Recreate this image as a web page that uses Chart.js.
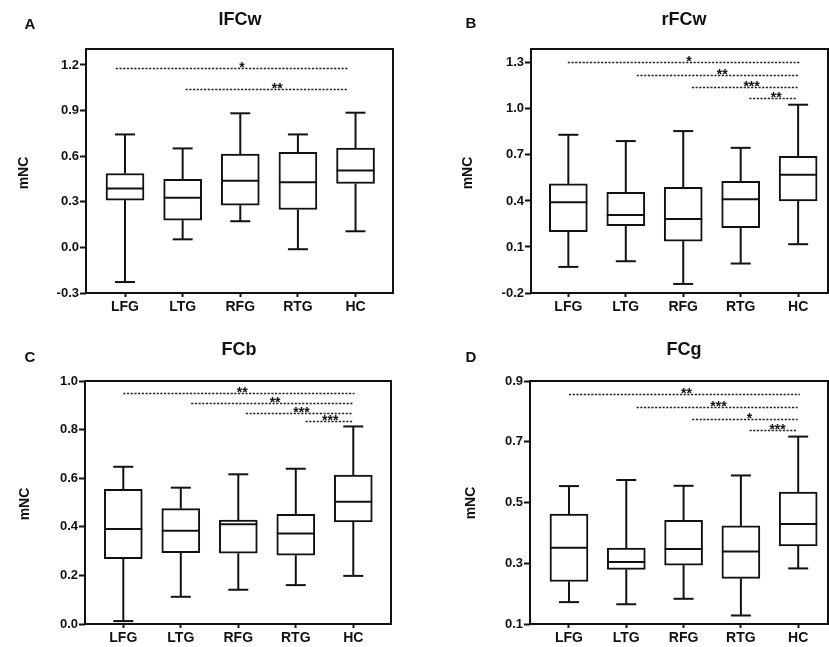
<!DOCTYPE html>
<html>
<head>
<meta charset="utf-8">
<script src="https://cdn.jsdelivr.net/npm/chart.js@4"></script>
<style>
  body { margin: 0; background: #fff; }
  #wrap { position: relative; width: 829px; height: 647px; overflow: hidden;
          font-family: "Liberation Sans", Arial, sans-serif; font-weight: bold; color: #111; }
  canvas { position: absolute; }
  .t { position: absolute; transform: translate(-50%, -50%); white-space: nowrap; }
  .letter { font-size: 15px; }
  .title { font-size: 18px; }
  .ylab { font-size: 14px; transform: translate(-50%, -50%) rotate(-90deg); }
</style>
</head>
<body>
<div id="wrap">
  <canvas id="cA" width="414" height="320" style="left:0;top:0"></canvas>
  <canvas id="cB" width="414" height="320" style="left:415px;top:0"></canvas>
  <canvas id="cC" width="414" height="327" style="left:0;top:320px"></canvas>
  <canvas id="cD" width="414" height="327" style="left:415px;top:320px"></canvas>

  <div class="t letter" style="left:30px;top:23px">A</div>
  <div class="t title" style="left:240px;top:19px">lFCw</div>
  <div class="t ylab" style="left:23px;top:173px">mNC</div>

  <div class="t letter" style="left:471px;top:22px">B</div>
  <div class="t title" style="left:684px;top:19px">rFCw</div>
  <div class="t ylab" style="left:467px;top:173px">mNC</div>

  <div class="t letter" style="left:30px;top:356px">C</div>
  <div class="t title" style="left:239px;top:349px">FCb</div>
  <div class="t ylab" style="left:24px;top:504px">mNC</div>

  <div class="t letter" style="left:471px;top:356px">D</div>
  <div class="t title" style="left:684px;top:349px">FCg</div>
  <div class="t ylab" style="left:470px;top:503px">mNC</div>
</div>
<script>
// groups on the x axis
const groups = ['LFG', 'LTG', 'RFG', 'RTG', 'HC'];

// panel A: lFCw
const aMin = [-0.228, 0.053, 0.172, -0.012, 0.106];
const aQ1  = [0.311, 0.179, 0.278, 0.249, 0.420];
const aMed = [0.387, 0.326, 0.438, 0.429, 0.506];
const aQ3  = [0.486, 0.447, 0.614, 0.625, 0.653];
const aMax = [0.743, 0.651, 0.882, 0.743, 0.886];
const aTicks = [-0.3, 0.0, 0.3, 0.6, 0.9, 1.2];
const aSigFrom = [-0.16, 1.05];
const aSigTo   = [3.87, 3.87];
const aSigY    = [1.182, 1.040];
const aSigAt   = [2.03, 2.64];
const aSigText = ['*', '**'];

// panel B: rFCw
const bMin = [-0.030, 0.007, -0.141, -0.008, 0.118];
const bQ1  = [0.199, 0.238, 0.138, 0.225, 0.400];
const bMed = [0.391, 0.308, 0.282, 0.411, 0.570];
const bQ3  = [0.511, 0.456, 0.489, 0.528, 0.690];
const bMax = [0.831, 0.790, 0.855, 0.746, 1.027];
const bTicks = [-0.2, 0.1, 0.4, 0.7, 1.0, 1.3];
const bSigFrom = [-0.01, 1.19, 2.15, 3.15];
const bSigTo   = [4.03, 4.01, 3.99, 3.98];
const bSigY    = [1.304, 1.222, 1.143, 1.071];
const bSigAt   = [2.10, 2.68, 3.19, 3.62];
const bSigText = ['*', '**', '***', '**'];

// panel C: FCb
const cMin = [0.012, 0.112, 0.141, 0.160, 0.198];
const cQ1  = [0.269, 0.294, 0.291, 0.283, 0.420];
const cMed = [0.391, 0.384, 0.410, 0.372, 0.503];
const cQ3  = [0.554, 0.475, 0.428, 0.451, 0.613];
const cMax = [0.647, 0.561, 0.616, 0.639, 0.813];
const cTicks = [0.0, 0.2, 0.4, 0.6, 0.8, 1.0];
const cSigFrom = [0.0, 1.18, 2.13, 3.17];
const cSigTo   = [4.02, 4.0, 3.98, 3.98];
const cSigY    = [0.952, 0.911, 0.870, 0.835];
const cSigAt   = [2.07, 2.64, 3.10, 3.60];
const cSigText = ['**', '**', '***', '***'];

// panel D: FCg
const dMin = [0.172, 0.165, 0.183, 0.128, 0.283];
const dQ1  = [0.240, 0.280, 0.294, 0.250, 0.357];
const dMed = [0.351, 0.304, 0.347, 0.339, 0.429];
const dQ3  = [0.462, 0.350, 0.441, 0.423, 0.534];
const dMax = [0.554, 0.574, 0.555, 0.589, 0.717];
const dTicks = [0.1, 0.3, 0.5, 0.7, 0.9];
const dSigFrom = [0.0, 1.18, 2.15, 3.15];
const dSigTo   = [4.03, 3.99, 3.99, 3.98];
const dSigY    = [0.856, 0.814, 0.776, 0.739];
const dSigAt   = [2.05, 2.61, 3.15, 3.64];
const dSigText = ['**', '***', '*', '***'];

const FONT = '"Liberation Sans", Arial, sans-serif';
const INK = '#111';

function makePanel(id, d, box) {
  // whiskers, medians, comparison lines and the frame
  const extras = {
    id: 'extras',
    afterDatasetsDraw(chart) {
      const { ctx, scales: { x, y } } = chart;
      ctx.save();
      ctx.strokeStyle = INK;
      ctx.lineWidth = 2;
      groups.forEach((g, i) => {
        const px = x.getPixelForValue(i);
        const line = (x0, y0, x1, y1) => {
          ctx.beginPath(); ctx.moveTo(x0, y0); ctx.lineTo(x1, y1); ctx.stroke();
        };
        line(px, y.getPixelForValue(d.q3[i]), px, y.getPixelForValue(d.max[i]));
        line(px - 10, y.getPixelForValue(d.max[i]), px + 10, y.getPixelForValue(d.max[i]));
        line(px, y.getPixelForValue(d.q1[i]), px, y.getPixelForValue(d.min[i]));
        line(px - 10, y.getPixelForValue(d.min[i]), px + 10, y.getPixelForValue(d.min[i]));
        line(px - 19, y.getPixelForValue(d.med[i]), px + 19, y.getPixelForValue(d.med[i]));
      });
      ctx.restore();
    },
    afterDraw(chart) {
      const { ctx, chartArea: a, scales: { x, y } } = chart;
      ctx.save();
      ctx.strokeStyle = '#222';
      ctx.lineWidth = 1.3;
      ctx.setLineDash([2.2, 1.5]);
      d.sigY.forEach((v, k) => {
        const py = Math.round(y.getPixelForValue(v)) + 0.5;
        ctx.beginPath();
        ctx.moveTo(x.getPixelForValue(d.sigFrom[k]), py);
        ctx.lineTo(x.getPixelForValue(d.sigTo[k]), py);
        ctx.stroke();
      });
      ctx.setLineDash([]);
      ctx.fillStyle = INK;
      ctx.font = 'bold 14px ' + FONT;
      ctx.textAlign = 'center';
      ctx.textBaseline = 'alphabetic';
      d.sigText.forEach((s, k) => {
        ctx.fillText(s, x.getPixelForValue(d.sigAt[k]), y.getPixelForValue(d.sigY[k]) + 4);
      });
      ctx.strokeStyle = INK;
      ctx.lineWidth = 2;
      ctx.strokeRect(a.left, a.top, a.right - a.left, a.bottom - a.top);
      ctx.restore();
    }
  };

  new Chart(document.getElementById(id), {
    type: 'bar',
    data: {
      datasets: [{
        data: groups.map((g, i) => ({ x: i, y: [d.q1[i], d.q3[i]] })),
        backgroundColor: '#fff',
        borderColor: INK,
        borderWidth: 2,
        borderSkipped: false,
        barThickness: 38,
      }],
    },
    options: {
      responsive: false,
      animation: false,
      devicePixelRatio: 1,
      layout: { padding: { left: 0, top: box.top, right: box.right, bottom: 0 } },
      plugins: { legend: { display: false }, tooltip: { enabled: false } },
      scales: {
        x: {
          type: 'linear', min: box.xmin, max: box.xmax, offset: false,
          afterBuildTicks: s => { s.ticks = groups.map((g, i) => ({ value: i })); },
          afterFit: s => { s.height = box.xh; },
          ticks: { callback: v => groups[v], color: INK, padding: 2,
                   font: { family: FONT, size: 14, weight: 'bold' } },
          grid: { offset: false, drawOnChartArea: false, drawTicks: true, tickLength: 4,
                  tickColor: INK, tickWidth: 2 },
          border: { display: false },
        },
        y: {
          min: box.ymin, max: box.ymax,
          afterBuildTicks: s => { s.ticks = d.ticks.map(v => ({ value: v })); },
          afterFit: s => { s.width = box.yw; },
          ticks: { callback: v => v.toFixed(1), color: INK, padding: 1,
                   font: { family: FONT, size: 13, weight: 'bold' } },
          grid: { drawOnChartArea: false, drawTicks: true, tickLength: 6,
                  tickColor: INK, tickWidth: 2 },
          border: { display: false },
        },
      },
    },
    plugins: [extras],
  });
}

makePanel('cA',
  { min: aMin, q1: aQ1, med: aMed, q3: aQ3, max: aMax, ticks: aTicks,
    sigFrom: aSigFrom, sigTo: aSigTo, sigY: aSigY, sigAt: aSigAt, sigText: aSigText },
  { top: 49, right: 21, yw: 86, xh: 27, xmin: -0.677, xmax: 4.65, ymin: -0.3, ymax: 1.305 });

makePanel('cB',
  { min: bMin, q1: bQ1, med: bMed, q3: bQ3, max: bMax, ticks: bTicks,
    sigFrom: bSigFrom, sigTo: bSigTo, sigY: bSigY, sigAt: bSigAt, sigText: bSigText },
  { top: 49, right: 1, yw: 116, xh: 27, xmin: -0.65, xmax: 4.52, ymin: -0.2, ymax: 1.39 });

makePanel('cC',
  { min: cMin, q1: cQ1, med: cMed, q3: cQ3, max: cMax, ticks: cTicks,
    sigFrom: cSigFrom, sigTo: cSigTo, sigY: cSigY, sigAt: cSigAt, sigText: cSigText },
  { top: 61, right: 23, yw: 85, xh: 23, xmin: -0.666, xmax: 4.656, ymin: 0, ymax: 1.0 });

makePanel('cD',
  { min: dMin, q1: dQ1, med: dMed, q3: dQ3, max: dMax, ticks: dTicks,
    sigFrom: dSigFrom, sigTo: dSigTo, sigY: dSigY, sigAt: dSigAt, sigText: dSigText },
  { top: 61, right: 1, yw: 115, xh: 23, xmin: -0.68, xmax: 4.52, ymin: 0.1, ymax: 0.9 });
</script>
</body>
</html>
